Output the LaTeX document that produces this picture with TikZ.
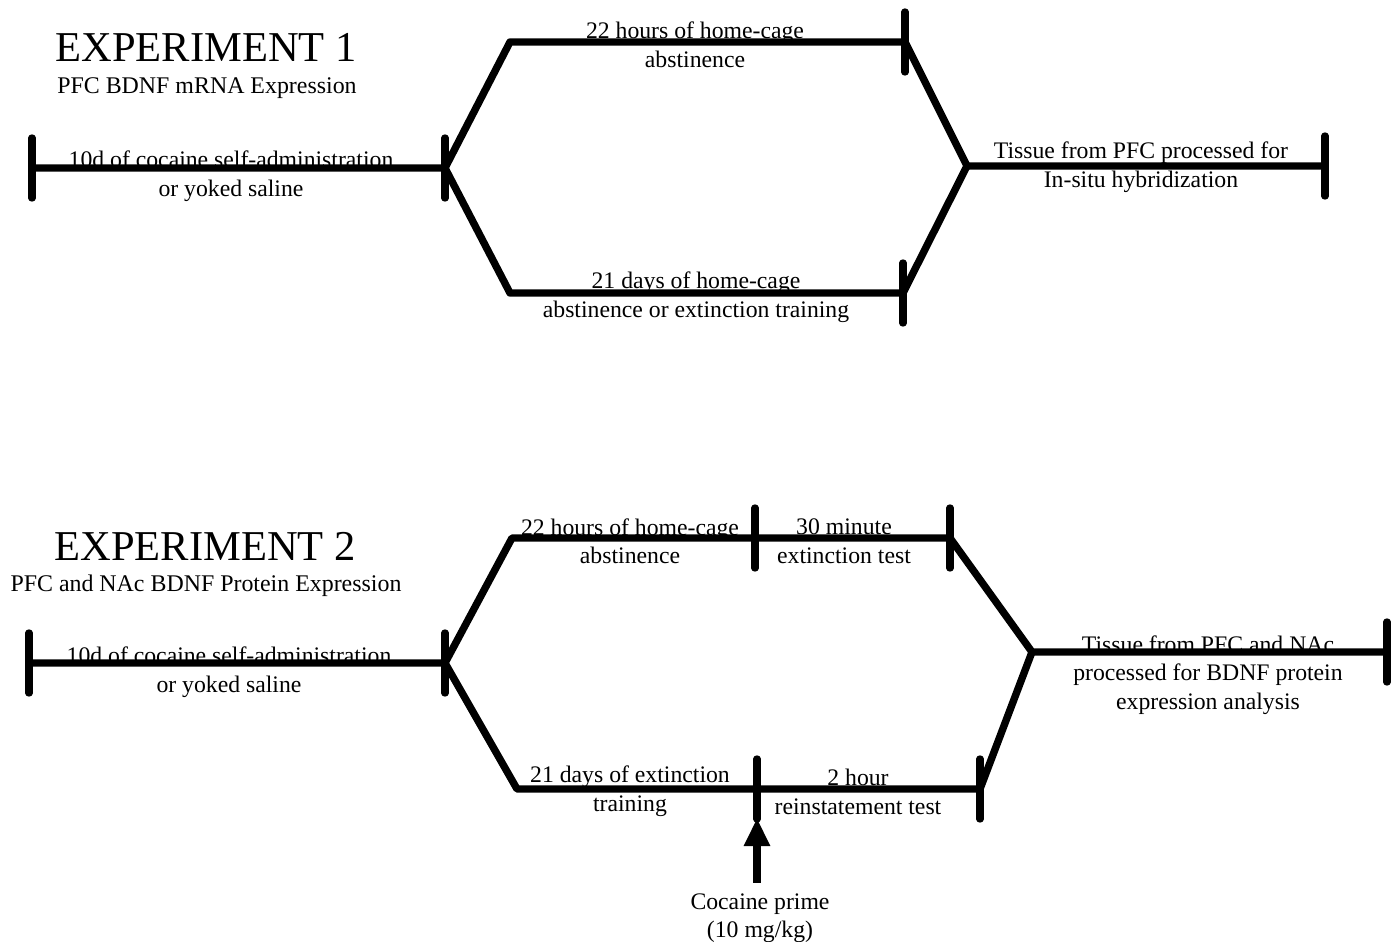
\documentclass[tikz,border=0pt]{standalone}
\usepackage{fontspec}
\setmainfont{Liberation Serif}
\usetikzlibrary{arrows.meta}
\begin{document}
\begin{tikzpicture}[x=0.02cm,y=-0.02cm]
        \tikzstyle{phase}=[draw, line width=4.2pt, line cap=round, line join=round]
        \tikzstyle{tickmark}=[draw, line width=4.2pt, line cap=round]
        \tikzstyle{prime}=[draw, line width=5pt, -{Triangle[length=16pt,width=14pt]}]
        \tikzstyle{label}=[inner sep=0pt, align=center, font=\fontsize{13.5}{16.2}\selectfont]
        \tikzstyle{title}=[inner sep=0pt, font=\fontsize{24.2}{27}\selectfont]
        \tikzstyle{subtitle}=[inner sep=0pt, font=\fontsize{13.6}{16}\selectfont]
        \useasboundingbox (0,0) rectangle (1393,942);
       \begin{scope}
         \coordinate (a0) at (32,168);
         \coordinate (a1) at (445,168);
         \coordinate (a2) at (510,42);
         \coordinate (a3) at (905,42);
         \coordinate (a4) at (510,293);
         \coordinate (a5) at (903,293);
         \coordinate (a6) at (967,166);
         \coordinate (a7) at (1325,166);

         \path[phase] (a0) -- (a1) -- (a2) -- (a3) -- (a6) -- (a7);
         \path[phase] (a1) -- (a4) -- (a5) -- (a6);
         \foreach \c in {a0,a1,a3,a5,a7}
           \path[tickmark] (\c) ++(0,-30) -- ++(0,60);

         \node [title] (t1) at (206,47) {EXPERIMENT 1};
         \node [subtitle] (s1) at (207,88) {PFC BDNF mRNA Expression};
         \node [label] (l1) at (231,176) {10d of cocaine self-administration\\or yoked saline};
         \node [label] (l2) at (695,45) {22 hours of home-cage\\abstinence};
         \node [label] (l3) at (696,297) {21 days of home-cage\\abstinence or extinction training};
         \node [label] (l4) at (1141,167) {Tissue from PFC processed for\\In-situ hybridization};
        \end{scope}

       \begin{scope}
         \coordinate (b0) at (29,663);
         \coordinate (b1) at (445,663);
         \coordinate (b2) at (512,538);
         \coordinate (b3) at (755,538);
         \coordinate (b4) at (950,538);
         \coordinate (b5) at (517,789);
         \coordinate (b6) at (757,789);
         \coordinate (b7) at (980,789);
         \coordinate (b8) at (1032,652);
         \coordinate (b9) at (1387,652);
         \coordinate (b10) at (757,818);

         \path[phase] (b0) -- (b1) -- (b2) -- (b3) -- (b4) -- (b8) -- (b9);
         \path[phase] (b1) -- (b5) -- (b6) -- (b7) -- (b8);
         \foreach \c in {b0,b1,b3,b4,b6,b7,b9}
           \path[tickmark] (\c) ++(0,-30) -- ++(0,60);

         \node [title] (t2) at (205,546) {EXPERIMENT 2};
         \node [subtitle] (s2) at (206,586) {PFC and NAc BDNF Protein Expression};
         \node [label] (m1) at (229,672) {10d of cocaine self-administration\\or yoked saline};
         \node [label] (m2) at (630,541) {22 hours of home-cage\\abstinence};
         \node [label] (m3) at (844,541) {30 minute\\extinction test};
         \node [label] (m4) at (630,791) {21 days of extinction\\training};
         \node [label] (m5) at (858,792) {2 hour\\reinstatement test};
         \node [label] (m6) at (1208,675) {Tissue from PFC and NAc\\processed for BDNF protein\\expression analysis};
         \node [label, outer sep=6pt] (cp) at (760,918) {Cocaine prime\\(10 mg/kg)};

         \path[prime] (cp.north -| b10) -- (b10);
        \end{scope}
\end{tikzpicture}
\end{document}
